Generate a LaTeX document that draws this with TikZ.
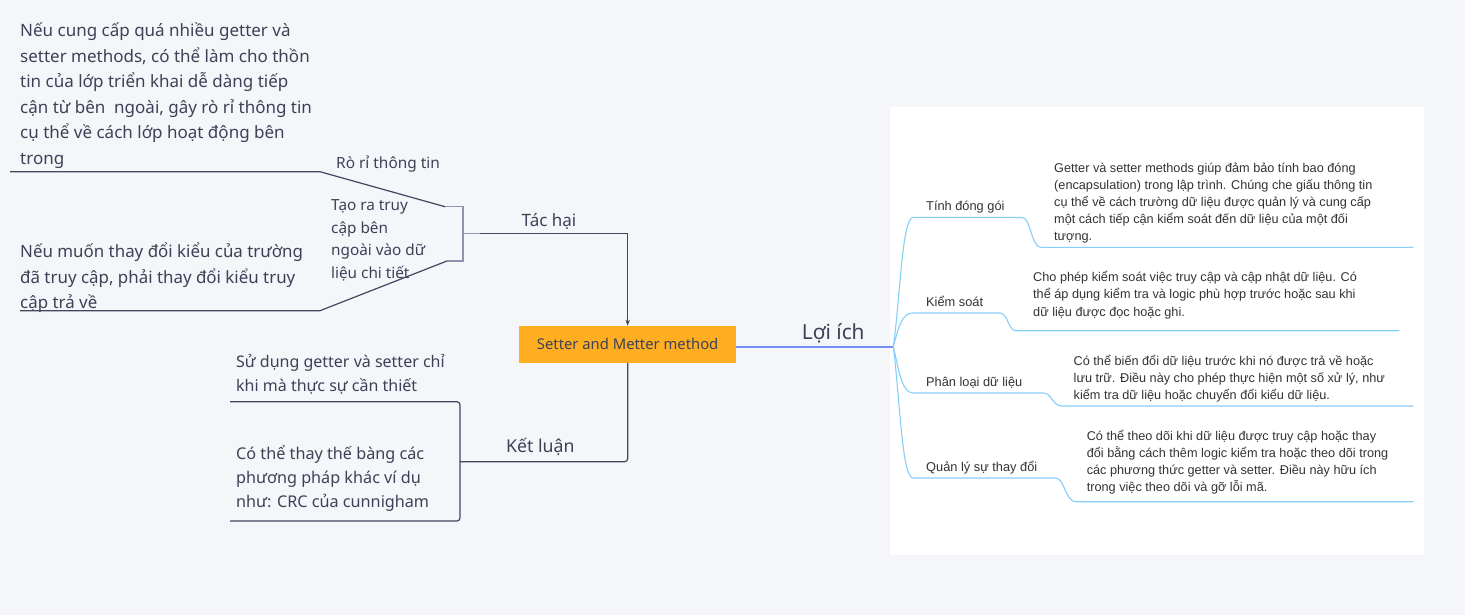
\documentclass[tikz,border=0pt]{standalone}
\usepackage{fontspec}
\setmainfont{Noto Sans}
\newfontfamily\arialf{Liberation Sans}
\usetikzlibrary{arrows.meta}
\definecolor{bgc}{HTML}{F5F6FA}
\definecolor{txt}{HTML}{3E4156}
\definecolor{lnk}{HTML}{43465F}
\definecolor{brk}{HTML}{8E93AE}
\definecolor{orng}{HTML}{FFAE22}
\definecolor{blu}{HTML}{7391F5}
\definecolor{sky}{HTML}{85CFFA}
\definecolor{dsc}{HTML}{333333}
\tikzset{
  lefttext/.style={anchor=north west, inner sep=0pt, align=left, text=txt, execute at begin node=\strut},
  lbl/.style={anchor=base west, inner sep=0pt, text=txt},
  rlbl/.style={anchor=base west, inner sep=0pt, text=dsc, font=\arialf\fontsize{12.8}{15}\selectfont},
  desc/.style={anchor=north west, inner sep=0pt, align=left, text=dsc, font=\arialf\fontsize{12.7}{17.1}\selectfont, execute at begin node=\strut},
  darkline/.style={draw=lnk, line width=1.2pt},
  bracketline/.style={draw=brk, line width=1.2pt},
  skyline/.style={draw=sky, line width=1.1pt},
  arr/.style={darkline, -{Stealth[length=6pt,width=4.5pt]}}
}
\begin{document}
\begin{tikzpicture}[x=1pt,y=-1pt]
\path[fill=bgc,use as bounding box] (0,0) rectangle (1465,615);
\fill[white] (890,107.3) rectangle (1424.3,555);

% texts left
\node[lefttext, font=\fontsize{17}{25.5}\selectfont] (tA) at (20,22.6)
 {Nếu cung cấp quá nhiều getter và\\setter methods, có thể làm cho thồn\\tin của lớp triển khai dễ dàng tiếp\\cận từ bên\ \ ngoài, gây rò rỉ thông tin\\cụ thể về cách lớp hoạt động bên\\trong};
\node[lbl, font=\fontsize{15.4}{18}\selectfont] (tRo) at (336,168.5) {Rò rỉ thông tin};
\node[lefttext, font=\fontsize{16.9}{25.8}\selectfont] (tB) at (20,242.3)
 {Nếu muốn thay đổi kiểu của trường\\đã truy cập, phải thay đổi kiểu truy\\cập trả về};
\node[lefttext, font=\fontsize{15.3}{22.4}\selectfont] (tTao) at (331,199.8)
 {Tạo ra truy\\cập bên\\ngoài vào dữ\\liệu chi tiết};
\node[lbl, font=\fontsize{17}{20}\selectfont] (tTac) at (521.5,226) {Tác hại};

% central
\node[fill=orng, minimum width=216.7pt, minimum height=36.7pt, inner sep=0pt, text=txt,
  font=\fontsize{14.8}{17}\selectfont] (main) at (627.65,344.3) {Setter and Metter method};

\node[lbl, font=\fontsize{17.7}{20}\selectfont] (tKet) at (506,452.7) {Kết luận};
\node[lefttext, font=\fontsize{16}{24}\selectfont] (tSu) at (236,354.6)
 {Sử dụng getter và setter chỉ\\khi mà thực sự cần thiết};
\node[lefttext, font=\fontsize{16.2}{23.8}\selectfont] (tCo) at (236,445.3)
 {Có thể thay thế bàng các\\phương pháp khác ví dụ\\như: CRC của cunnigham};

\node[lbl, font=\fontsize{20.8}{24}\selectfont] (tLoi) at (801.7,339) {Lợi ích};

% right labels
\node[rlbl] (r1) at (926,211) {Tính đóng gói};
\node[rlbl] (r2) at (926,306.7) {Kiểm soát};
\node[rlbl] (r3) at (926,386) {Phân loại dữ liệu};
\node[rlbl] (r4) at (926,471.7) {Quản lý sự thay đổi};

\node[desc] (d1) at (1054,162.8)
 {Getter và setter methods giúp đảm bảo tính bao đóng\\(encapsulation) trong lập trình. Chúng che giấu thông tin\\cụ thể về cách trường dữ liệu được quản lý và cung cấp\\một cách tiếp cận kiểm soát đến dữ liệu của một đối\\tượng.};
\node[desc] (d2) at (1033,271.4)
 {Cho phép kiểm soát việc truy cập và cập nhật dữ liệu. Có\\thể áp dụng kiểm tra và logic phù hợp trước hoặc sau khi\\dữ liệu được đọc hoặc ghi.};
\node[desc] (d3) at (1073.5,354.8)
 {Có thể biến đổi dữ liệu trước khi nó được trả về hoặc\\lưu trữ. Điều này cho phép thực hiện một số xử lý, như\\kiểm tra dữ liệu hoặc chuyển đổi kiểu dữ liệu.};
\node[desc] (d4) at (1086.6,429.8)
 {Có thể theo dõi khi dữ liệu được truy cập hoặc thay\\đổi bằng cách thêm logic kiểm tra hoặc theo dõi trong\\các phương thức getter và setter. Điều này hữu ích\\trong việc theo dõi và gỡ lỗi mã.};

% coordinates
\coordinate (l1end) at (10,171.7);
\coordinate (l1knee) at (320,171.7);
\coordinate (l1tip) at (445,206.7);
\coordinate (brT) at (463,206.7);
\coordinate (brM) at (463,233.3);
\coordinate (brB) at (463,261);
\coordinate (brS) at (480,233.3);
\coordinate (l2tip) at (447,261);
\coordinate (l2knee) at (320,310.7);
\coordinate (l2end) at (20,310.7);

\coordinate (kCorner) at (627.65,461.7);
\coordinate (kMid) at (460,461.7);
\coordinate (kTR) at (460,401.7);
\coordinate (kBR) at (460,521);
\coordinate (kTL) at (230,401.7);
\coordinate (kBL) at (230,521);

\coordinate (fork) at (893.3,346.7);
\coordinate (u1a) at (913,217.5); \coordinate (u1b) at (1022,217.5);
\coordinate (u1c) at (1041,247.3); \coordinate (u1d) at (1413.3,247.3);
\coordinate (u2a) at (913,313); \coordinate (u2b) at (1000,313);
\coordinate (u2c) at (1016,330.7); \coordinate (u2d) at (1399.3,330.7);
\coordinate (u3a) at (913,393); \coordinate (u3b) at (1043,393);
\coordinate (u3c) at (1062,406); \coordinate (u3d) at (1413.3,406);
\coordinate (u4a) at (913,478); \coordinate (u4b) at (1055,478);
\coordinate (u4c) at (1076,501.7); \coordinate (u4d) at (1413.3,501.7);

% left leaf lines
\draw[darkline] (l1end) -- (l1knee) -- (l1tip);
\draw[darkline] (l2end) -- (l2knee) -- (l2tip);
\draw[bracketline] (l1tip) -- (brT) -- (brB) -- (l2tip);
\draw[bracketline] (brM) -- (brS);
\draw[arr] (brS) -| (main.north);

% conclusion
\draw[darkline, rounded corners=3pt] (main.south) -- (kCorner) -- (kMid);
\draw[darkline, rounded corners=3pt] (kTL) -- (kTR) -- (kBR) -- (kBL);

% benefits
\draw[draw=blu, line width=1.8pt] (main.east |- fork) -- (fork);
\draw[skyline] (fork) .. controls (900,300) and (902,217.5) .. (u1a) -- (u1b)
  .. controls (1031,217.5) and (1031,247.3) .. (u1c) -- (u1d);
\draw[skyline] (fork) .. controls (898,330) and (901,313) .. (u2a) -- (u2b)
  .. controls (1008,313) and (1008,330.7) .. (u2c) -- (u2d);
\draw[skyline] (fork) .. controls (898,365) and (901,393) .. (u3a) -- (u3b)
  .. controls (1052,393) and (1052,406) .. (u3c) -- (u3d);
\draw[skyline] (fork) .. controls (900,400) and (902,478) .. (u4a) -- (u4b)
  .. controls (1065,478) and (1065,501.7) .. (u4c) -- (u4d);
\end{tikzpicture}
\end{document}
